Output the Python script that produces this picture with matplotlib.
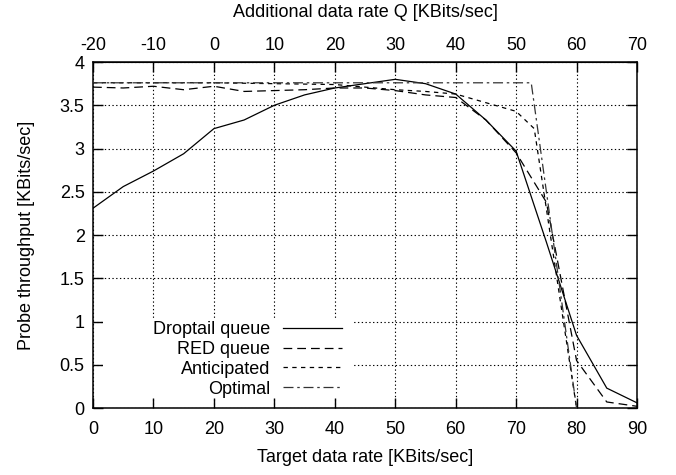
import matplotlib
matplotlib.use('Agg')
import matplotlib.pyplot as plt
from matplotlib.patches import Rectangle
from matplotlib.ticker import FormatStrFormatter

plt.rcParams['font.family'] = ['Liberation Sans', 'DejaVu Sans']
plt.rcParams['axes.unicode_minus'] = False

# data
target_rate = [0, 5, 10, 15, 20, 25, 30, 35, 40, 45, 50, 55, 60, 65, 70, 75, 80, 85, 90]
droptail = [2.31, 2.56, 2.74, 2.94, 3.23, 3.33, 3.50, 3.62, 3.70, 3.75, 3.80, 3.75, 3.63,
            3.33, 2.97, 1.92, 0.84, 0.23, 0.06]
red_queue = [3.71, 3.70, 3.72, 3.68, 3.72, 3.66, 3.67, 3.68, 3.70, 3.70, 3.67, 3.62, 3.59,
             3.33, 2.95, 2.38, 0.55, 0.07, 0.02]

ant_rate = [0, 10, 20, 30, 40, 45, 50, 55, 60, 65, 70, 73, 80]
anticipated = [3.76, 3.76, 3.76, 3.75, 3.74, 3.71, 3.68, 3.66, 3.63, 3.53, 3.43, 3.23, 0.0]

opt_rate = [0, 72.5, 80]
optimal = [3.76, 3.76, 0.0]

x_offset = 20  # additional rate = target rate - 20

fig = plt.figure(figsize=(6.76, 4.75), dpi=100)
ax = fig.add_axes([0.1376, 0.141, 0.8047, 0.7284])

lw = 0.9
ax.plot(target_rate, droptail, color='black', lw=lw, label='Droptail queue', zorder=3)
ax.plot(target_rate, red_queue, color='black', lw=lw, dashes=(7, 4), label='RED queue', zorder=3)
ax.plot(ant_rate, anticipated, color='black', lw=lw, dashes=(3.5, 3.5), label='Anticipated', zorder=3)
ax.plot(opt_rate, optimal, color='#333333', lw=lw, dashes=(8, 3, 2, 3), label='Optimal', zorder=3)

ax.set_xlim(0, 90)
ax.set_ylim(0, 4)
ax.set_xticks(range(0, 91, 10))
ax.set_yticks([0, 0.5, 1, 1.5, 2, 2.5, 3, 3.5, 4])
ax.yaxis.set_major_formatter(FormatStrFormatter('%g'))

ax.set_axisbelow(True)
ax.grid(True, color='black', lw=0.8, linestyle=(0, (1.2, 2.2)))

ax.tick_params(direction='in', length=7, width=1, labelsize=13, top=False, right=True, pad=6)
ax.tick_params(axis='x', pad=9)
for s in ax.spines.values():
    s.set_linewidth(1.1)

top = ax.secondary_xaxis('top', functions=(lambda x: x - x_offset, lambda x: x + x_offset))
top.set_xticks(range(-20, 71, 10))
top.tick_params(direction='in', length=7, width=1, labelsize=13, pad=6)
top.set_xlabel('Additional data rate Q [KBits/sec]', fontsize=13, labelpad=14)

ax.set_xlabel('Target data rate [KBits/sec]', fontsize=13, labelpad=8)
ax.set_ylabel('Probe throughput [KBits/sec]', fontsize=13, labelpad=18)

# opaque key area like gnuplot
ax.add_patch(Rectangle((0.018, 0.029), 0.46, 0.225, transform=ax.transAxes,
                       facecolor='white', edgecolor='none', zorder=1.8))

ax.legend(loc='lower right', bbox_to_anchor=(0.458, 0.03), markerfirst=False, frameon=False,
          fontsize=13, handlelength=3.3, handletextpad=0.7, labelspacing=0.16,
          borderpad=0, borderaxespad=0)

fig.savefig('out.png', dpi=100)
